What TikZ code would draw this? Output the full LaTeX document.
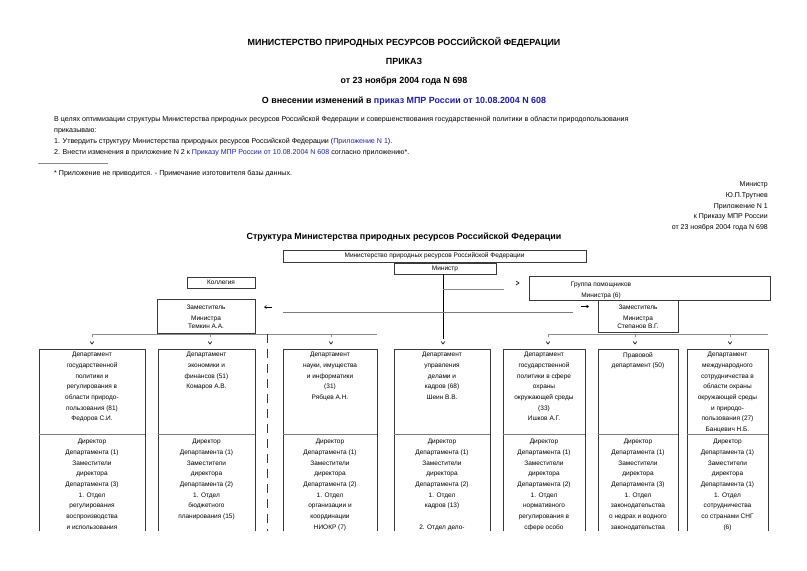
\documentclass[tikz,border=0pt]{standalone}
\usepackage{fontspec}
\setmainfont{Liberation Sans}
\usetikzlibrary{arrows.meta}
\definecolor{linkblue}{HTML}{1F1F9E}
\definecolor{boxline}{HTML}{3A3A3A}
\definecolor{divline}{HTML}{7C7C7C}
\definecolor{thinline}{HTML}{8A8A8A}
\begin{document}
\begin{tikzpicture}[x=1pt,y=-1pt,
  ttl/.style={font=\fontsize{8.9}{10}\selectfont\bfseries, inner sep=0pt, anchor=base},
  para/.style={font=\fontsize{7.1}{10}\selectfont, inner sep=0pt, anchor=base west},
  rblock/.style={font=\fontsize{7.0}{10}\selectfont, inner sep=0pt, anchor=base east},
  boxtxt/.style={font=\fontsize{6.5}{10.7}\selectfont, inner sep=0pt, align=center},
  orgbox/.style={draw=boxline, line width=0.9pt, inner sep=0pt},
  dept/.style={draw=boxline, line width=0.9pt},
  divider/.style={draw=divline, line width=1.8pt},
  hline/.style={draw=thinline, line width=0.7pt},
  chev/.style={draw=black, line width=0.6pt},
  tick/.style={draw=thinline, line width=0.7pt}
]
\useasboundingbox (0,0) rectangle (807,571);
\fill[white] (0,0) rectangle (807,571);

% ---------- header ----------
\node[ttl] (t1) at (404,45) {МИНИСТЕРСТВО ПРИРОДНЫХ РЕСУРСОВ РОССИЙСКОЙ ФЕДЕРАЦИИ};
\node[ttl] (t2) at (404,64) {ПРИКАЗ};
\node[ttl] (t3) at (404,83) {от 23 ноября 2004 года N 698};
\node[ttl] (t4) at (404,103) {О внесении изменений в \textcolor{linkblue}{приказ МПР России от 10.08.2004 N 608}};

\node[para] (p1) at (54,121) {В целях оптимизации структуры Министерства природных ресурсов Российской Федерации и совершенствования государственной политики в области природопользования};
\node[para] (p2) at (54,132) {приказываю:};
\node[para] (p3) at (54,143) {1. Утвердить структуру Министерства природных ресурсов Российской Федерации (\textcolor{linkblue}{Приложение N 1}).};
\node[para] (p4) at (54,154) {2. Внести изменения в приложение N 2 к \textcolor{linkblue}{Приказу МПР России от 10.08.2004 N 608} согласно приложению*.};
\draw[draw=thinline, line width=0.8pt] (38,163) -- (108,163);
\node[para] (fn) at (54,175) {* Приложение не приводится. - Примечание изготовителя базы данных.};

\node[rblock] (r1) at (768,186) {Министр};
\node[rblock] (r2) at (768,197) {Ю.П.Трутнев};
\node[rblock] (r3) at (768,208) {Приложение N 1};
\node[rblock] (r4) at (768,218) {к Приказу МПР России};
\node[rblock] (r5) at (768,229) {от 23 ноября 2004 года N 698};

\node[ttl] (st) at (404,239.5) {Структура Министерства природных ресурсов Российской Федерации};

% ---------- top of chart ----------
\draw[orgbox] (283,250) rectangle (586,262);
\node[boxtxt] (mpr) at (434.5,256) {Министерство природных ресурсов Российской Федерации};
\draw[orgbox] (394,263) rectangle (496,274);
\node[boxtxt] (min) at (445,268.5) {Министр};
\draw[orgbox] (187,277) rectangle (255,288);
\node[boxtxt] (kol) at (221,282.5) {Коллегия};
\draw[orgbox] (529,276) rectangle (770,300);
\node[boxtxt] (grp) at (601,290.5) {Группа помощников\\Министра (6)};
\draw[orgbox] (157,299) rectangle (255,333);
\node[boxtxt, anchor=north] (tem) at (206,304.5) {Заместитель\\[0.3pt]Министра\\[-2pt]Темкин А.А.};
\draw[orgbox] (598,300) rectangle (678,332);
\node[boxtxt, anchor=north] (ste) at (638,304.5) {Заместитель\\[0.3pt]Министра\\[-2pt]Степанов В.Г.};

% connectors
\coordinate (minbot) at (443,274);
\coordinate (d4top) at (443,339);
\coordinate (grpin) at (504,289);
\coordinate (lfeed) at (283,312.5);
\coordinate (rfeed) at (573,312.5);
\draw[draw=black, line width=0.8pt] (minbot) -- (d4top);
\draw[hline] (443,289) -- (grpin);
\draw[chev] (516,281) -- (519,283) -- (516,285);
\draw[draw=divline, line width=1.8pt] (lfeed) -- (rfeed);
\draw[line width=0.6pt, -{Straight Barb[length=2pt,width=3pt]}] (272,307) -- (264,307);
\draw[line width=0.6pt, -{Straight Barb[length=2pt,width=3pt]}] (581,306.5) -- (589,306.5);

% horizontal distribution lines
\coordinate (lL) at (92,334);
\coordinate (lR) at (377,334);
\coordinate (rL) at (548,334);
\coordinate (rR) at (768,334);
\draw[hline] (lL) -- (lR);
\draw[hline] (rL) -- (rR);
\foreach \x in {92,210,331} \draw[tick] (\x,334) -- (\x,337);
\foreach \x in {548,635,730} \draw[tick] (\x,334) -- (\x,337);
\draw[draw=boxline, line width=0.8pt, dash pattern=on 9pt off 6pt] (267,334) -- (267,531);

% chevrons
\foreach \x in {92,210,331,443,548,635,730}
  \draw[chev] (\x-1.8,341.5) -- (\x,344) -- (\x+1.8,341.5);

% ---------- department boxes ----------
\foreach \a/\b in {39/145,158/255,283/377,394/490,503/585,598/678,687/768}{
  \draw[dept] (\a,531) -- (\a,349) -- (\b,349) -- (\b,531);
  \draw[divider] (\a,434.5) -- (\b,434.5);
}

\node[boxtxt, anchor=north] (d1a) at (92,352) {Департамент\\государственной\\политики и\\регулирования в\\области природо-\\пользования (81)\\Федоров С.И.};
\node[boxtxt, anchor=north] (d2a) at (206.5,352) {Департамент\\экономики и\\финансов (51)\\Комаров А.В.};
\node[boxtxt, anchor=north] (d3a) at (330,352) {Департамент\\науки, имущества\\и информатики\\(31)\\Рябцев А.Н.};
\node[boxtxt, anchor=north] (d4a) at (442,352) {Департамент\\управления\\делами и\\кадров (68)\\Шеин В.В.};
\node[boxtxt, anchor=north] (d5a) at (544,352) {Департамент\\государственной\\политики в сфере\\охраны\\окружающей среды\\(33)\\Ишков А.Г.};
\node[boxtxt, anchor=north] (d6a) at (638,352) {Правовой\\департамент (50)};
\node[boxtxt, anchor=north] (d7a) at (727.5,352) {Департамент\\международного\\сотрудничества в\\области охраны\\окружающей среды\\и природо-\\пользования (27)\\Банцевич Н.Б.};

\node[boxtxt, anchor=north] (d1b) at (92,439) {Директор\\Департамента (1)\\Заместители\\директора\\Департамента (3)\\1. Отдел\\регулирования\\воспроизводства\\и использования};
\node[boxtxt, anchor=north] (d2b) at (206.5,439) {Директор\\Департамента (1)\\Заместители\\директора\\Департамента (2)\\1. Отдел\\бюджетного\\планирования (15)};
\node[boxtxt, anchor=north] (d3b) at (330,439) {Директор\\Департамента (1)\\Заместители\\директора\\Департамента (2)\\1. Отдел\\организации и\\координации\\НИОКР (7)};
\node[boxtxt, anchor=north] (d4b) at (442,439) {Директор\\Департамента (1)\\Заместители\\директора\\Департамента (2)\\1. Отдел\\кадров (13)\\[10.7pt]2. Отдел дело-};
\node[boxtxt, anchor=north] (d5b) at (544,439) {Директор\\Департамента (1)\\Заместители\\директора\\Департамента (2)\\1. Отдел\\нормативного\\регулирования в\\сфере особо};
\node[boxtxt, anchor=north] (d6b) at (638,439) {Директор\\Департамента (1)\\Заместители\\директора\\Департамента (3)\\1. Отдел\\законодательства\\о недрах и водного\\законодательства};
\node[boxtxt, anchor=north] (d7b) at (727.5,439) {Директор\\Департамента (1)\\Заместители\\директора\\Департамента (1)\\1. Отдел\\сотрудничества\\со странами СНГ\\(6)};
\end{tikzpicture}
\end{document}
